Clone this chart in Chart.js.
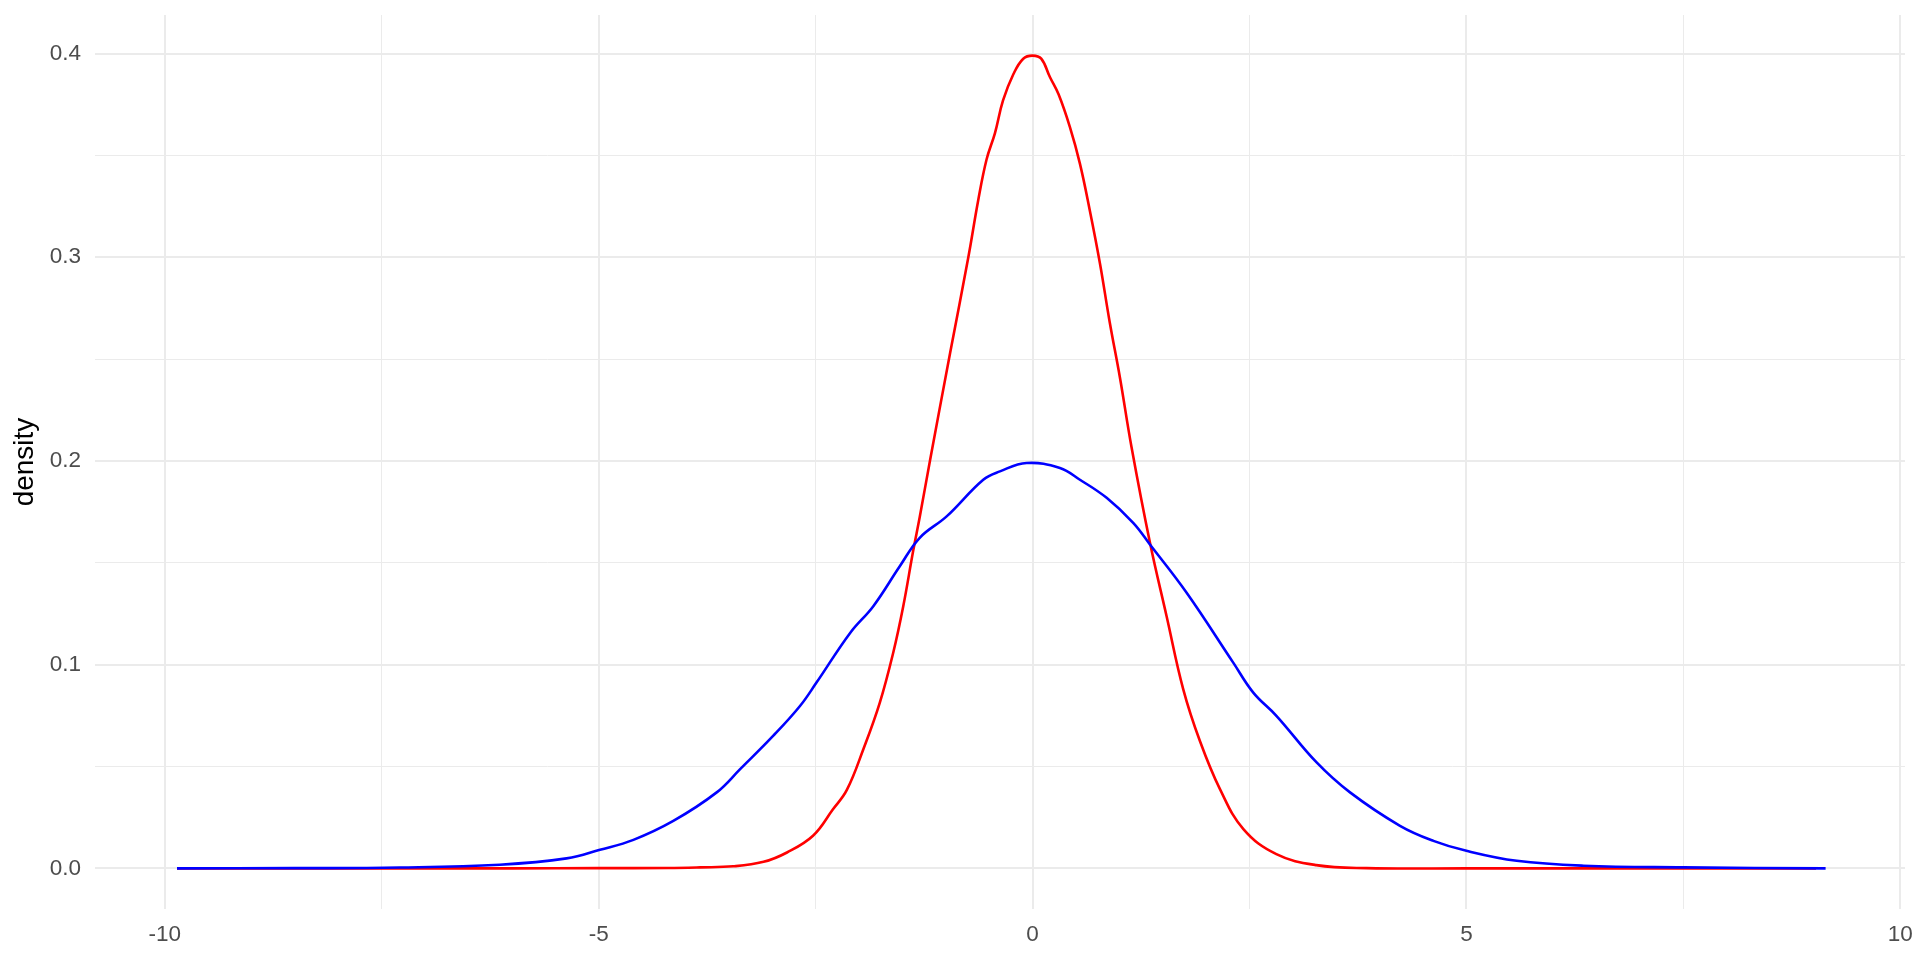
<!DOCTYPE html>
<html>
<head>
<meta charset="utf-8">
<script src="https://cdn.jsdelivr.net/npm/chart.js@4.4.1/dist/chart.umd.min.js"></script>
<style>
  html, body { margin: 0; padding: 0; background: #fff; }
  #plot { display: block; }
</style>
</head>
<body>
<canvas id="plot" width="1920" height="960"></canvas>
<script>
// values
const redX = [-9.86, -6.0, -5.0, -4.2, -3.83, -3.45, -3.10, -2.83, -2.53, -2.30, -2.14, -1.95, -1.76, -1.605, -1.49, -1.375, -1.30, -1.18, -0.95, -0.74, -0.626, -0.53, -0.433, -0.34, -0.22, -0.107, 0.0, 0.10, 0.20, 0.30, 0.43, 0.546, 0.66, 0.777, 0.89, 1.007, 1.14, 1.353, 1.545, 1.737, 1.93, 2.16, 2.43, 2.81, 3.27, 3.85, 5.0, 9.03]
const redY = [0, 0, 0.0001, 0.0002, 0.0005, 0.001, 0.0032, 0.0078, 0.016, 0.029, 0.0385, 0.0585, 0.0814, 0.106, 0.1287, 0.156, 0.1725, 0.2006, 0.253, 0.300, 0.328, 0.348, 0.361, 0.377, 0.390, 0.3975, 0.399, 0.3975, 0.3885, 0.380, 0.364, 0.346, 0.323, 0.297, 0.268, 0.241, 0.207, 0.160, 0.1238, 0.0879, 0.0624, 0.0389, 0.0193, 0.007, 0.0016, 0.0001, 0, 0]

const blueX = [-9.86, -8.5, -7.29, -6.14, -5.37, -4.985, -4.60, -4.14, -3.64, -3.37, -2.99, -2.68, -2.49, -2.10, -1.835, -1.53, -1.30, -0.99, -0.568, -0.376, -0.068, 0.316, 0.546, 0.854, 1.16, 1.353, 1.776, 2.313, 2.544, 2.813, 3.274, 3.659, 4.235, 4.62, 5.0, 5.58, 6.35, 7.5, 9.14]
const blueY = [0, 0.0001, 0.0004, 0.0018, 0.0049, 0.0091, 0.014, 0.0233, 0.0373, 0.0487, 0.065, 0.0797, 0.0912, 0.1157, 0.1287, 0.1483, 0.1623, 0.1728, 0.1908, 0.1949, 0.199, 0.1966, 0.1908, 0.1819, 0.1696, 0.159, 0.1353, 0.101, 0.0863, 0.0748, 0.052, 0.0373, 0.0209, 0.0135, 0.0086, 0.0037, 0.0013, 0.0005, 0]

const xMajor = [-10, -5, 0, 5, 10]
const xMinor = [-7.5, -2.5, 2.5, 7.5]
const yMajor = [0, 0.1, 0.2, 0.3, 0.4]
const yMinor = [0.05, 0.15, 0.25, 0.35]

const plot = document.getElementById('plot')

function toPoints(xs, ys) {
    return xs.map((x, i) => ({ x: x, y: ys[i] }))
}

function isMajor(list, v) {
    return list.some(m => Math.abs(m - v) < 1e-9)
}

// drop the label half-size padding chart.js adds so the panel edges stay put
function noLabelPadding(scale) {
    scale.paddingTop = 0
    scale.paddingBottom = 0
    scale.paddingLeft = 0
    scale.paddingRight = 0
}

const tickFont = { family: "'Liberation Sans', Arial, sans-serif", size: 22.5 }

const config = {
    type: 'line',
    data: {
        datasets: [{
            data: toPoints(blueX, blueY),
            borderColor: '#0000FF',
            borderWidth: 2.6,
            pointRadius: 0,
            tension: 0.4,
            fill: false
        }, {
            data: toPoints(redX, redY),
            borderColor: '#FF0000',
            borderWidth: 2.6,
            pointRadius: 0,
            tension: 0.4,
            fill: false
        }]
    },
    options: {
        responsive: false,
        animation: false,
        layout: {
            padding: { top: 15, right: 15, left: 0, bottom: 0 }
        },
        plugins: {
            legend: { display: false },
            tooltip: { enabled: false }
        },
        scales: {
            x: {
                type: 'linear',
                min: -10.805,
                max: 10.055,
                afterBuildTicks: scale => {
                    scale.ticks = xMajor.concat(xMinor).sort((a, b) => a - b).map(v => ({ value: v }))
                },
                afterFit: scale => {
                    scale.height = 51
                    noLabelPadding(scale)
                },
                border: { display: false },
                grid: {
                    color: '#EBEBEB',
                    drawTicks: false,
                    lineWidth: ctx => isMajor(xMajor, ctx.tick.value) ? 2 : 1
                },
                ticks: {
                    autoSkip: false,
                    maxRotation: 0,
                    padding: 12,
                    color: '#4D4D4D',
                    font: tickFont,
                    callback: v => isMajor(xMajor, v) ? String(v) : ''
                }
            },
            y: {
                min: -0.01995,
                max: 0.41895,
                afterBuildTicks: scale => {
                    scale.ticks = yMajor.concat(yMinor).sort((a, b) => a - b).map(v => ({ value: v }))
                },
                afterFit: scale => {
                    scale.width = 95
                    noLabelPadding(scale)
                },
                border: { display: false },
                grid: {
                    color: '#EBEBEB',
                    drawTicks: false,
                    lineWidth: ctx => isMajor(yMajor, ctx.tick.value) ? 2 : 1
                },
                ticks: {
                    autoSkip: false,
                    padding: 14,
                    color: '#4D4D4D',
                    font: tickFont,
                    callback: v => isMajor(yMajor, v) ? v.toFixed(1) : ''
                },
                title: {
                    display: true,
                    text: 'density',
                    color: '#000000',
                    font: { family: "'Liberation Sans', Arial, sans-serif", size: 28 },
                    padding: { top: 8, bottom: 0 }
                }
            }
        }
    }
}

const chart = new Chart(plot, config)
</script>
</body>
</html>
